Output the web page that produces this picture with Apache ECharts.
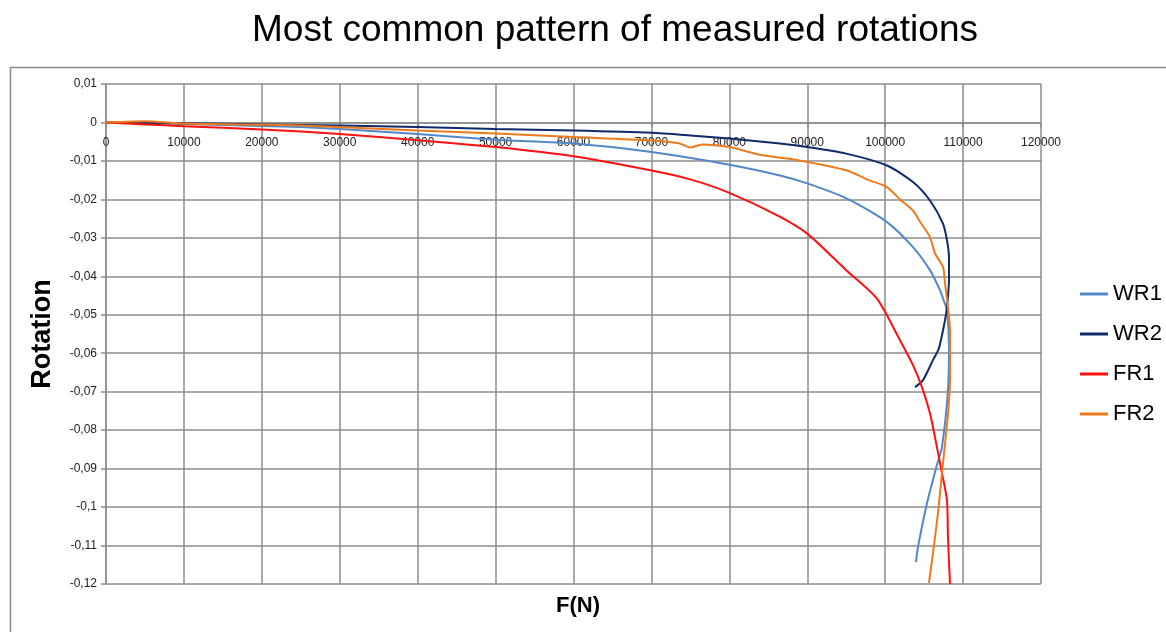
<!DOCTYPE html>
<html>
<head>
<meta charset="utf-8">
<title>Most common pattern of measured rotations</title>
<script src="https://cdn.jsdelivr.net/npm/echarts@6/dist/echarts.min.js"></script>
<style>
  html, body { margin: 0; padding: 0; background: #ffffff; }
  #chart { width: 1166px; height: 632px; }
</style>
</head>
<body>
<div id="chart"></div>
<script>
// Axis ticks
var forceTicks = [0, 10000, 20000, 30000, 40000, 50000, 60000, 70000, 80000, 90000, 100000, 110000, 120000];
var rotationTicks = [0.01, 0, -0.01, -0.02, -0.03, -0.04, -0.05, -0.06, -0.07, -0.08, -0.09, -0.1, -0.11, -0.12];

var seriesNames = ['WR1', 'WR2', 'FR1', 'FR2'];

// WR1: force (N) and rotation
var wr1Force = [0, 10000, 20000, 25000, 30000, 40000, 50000, 60000, 70000, 80000, 86500, 90100, 95100, 100230, 103570, 105750, 107030, 107500, 107930, 108190, 108060, 107290, 106650, 105370, 104210, 103960];
var wr1Rotation = [0, -0.0004, -0.0009, -0.0012, -0.0017, -0.003, -0.0045, -0.0055, -0.0077, -0.011, -0.0138, -0.0159, -0.0198, -0.0259, -0.0324, -0.0384, -0.0436, -0.0462, -0.0488, -0.0584, -0.0696, -0.0844, -0.0890, -0.0990, -0.1104, -0.1143];

// WR2
var wr2Force = [0, 10000, 20000, 30000, 40000, 50000, 60000, 70000, 75000, 80000, 86500, 90000, 95000, 100230, 103570, 105750, 107420, 107930, 108190, 108190, 107930, 107680, 106900, 106130, 104850, 103830];
var wr2Rotation = [0, -0.0002, -0.0005, -0.0008, -0.0012, -0.0017, -0.0021, -0.0027, -0.0034, -0.0042, -0.0055, -0.0064, -0.0081, -0.0112, -0.0155, -0.0203, -0.0263, -0.0306, -0.0350, -0.0410, -0.0480, -0.0514, -0.0587, -0.0618, -0.0670, -0.0688];

// FR1
var fr1Force = [0, 5000, 10000, 20000, 30000, 40000, 50000, 60000, 70000, 75000, 80000, 86400, 90000, 95000, 98900, 101900, 103570, 104720, 105750, 106390, 107290, 107930, 108060, 108320];
var fr1Rotation = [0, -0.0005, -0.001, -0.0018, -0.003, -0.0046, -0.0064, -0.0088, -0.0125, -0.0148, -0.0183, -0.0244, -0.0289, -0.0384, -0.0457, -0.0566, -0.0631, -0.0688, -0.0756, -0.0818, -0.0912, -0.0982, -0.1078, -0.1200];

// FR2
var fr2Force = [0, 5000, 10000, 20000, 25000, 40000, 50000, 60000, 70000, 73500, 75000, 76500, 80000, 83900, 89000, 95100, 97670, 100230, 101900, 103570, 104470, 105750, 106390, 107420, 107680, 108060, 108320, 108320, 108060, 107290, 106780, 106130, 105620];
var fr2Rotation = [0, 0.0003, -0.0003, -0.0006, -0.0008, -0.0021, -0.0029, -0.0038, -0.0047, -0.0054, -0.0065, -0.0057, -0.0064, -0.0084, -0.0099, -0.0125, -0.0148, -0.0168, -0.0200, -0.0229, -0.0258, -0.0298, -0.0340, -0.0376, -0.0418, -0.0481, -0.0540, -0.0670, -0.0758, -0.0912, -0.1016, -0.1120, -0.1197];

var seriesColors = ['#5288c9', '#0e2a6b', '#ff1010', '#ed7a1c'];

function pairs(xs, ys) {
  return xs.map(function (x, i) { return [x, ys[i]]; });
}

var seriesData = [
  pairs(wr1Force, wr1Rotation),
  pairs(wr2Force, wr2Rotation),
  pairs(fr1Force, fr1Rotation),
  pairs(fr2Force, fr2Rotation)
];

function commaDecimal(v) {
  var r = Math.round(v * 100) / 100;
  return String(r).replace('.', ',');
}

function plainNumber(v) {
  return String(Math.round(v));
}

var gridColor = '#8c8c8c';
var gridTop = 84, gridBottom = 48, chartHeight = 632;
var yMin = rotationTicks[rotationTicks.length - 1], yMax = rotationTicks[0];
// Distance from the bottom of the plot up to the zero line, so the force axis sits at rotation 0
var plotHeight = chartHeight - gridTop - gridBottom;
var zeroOffset = plotHeight * (0 - yMin) / (yMax - yMin);

var chart = echarts.init(document.getElementById('chart'), null, { renderer: 'canvas' });

chart.setOption({
  backgroundColor: '#ffffff',
  animation: false,
  title: {
    text: 'Most common pattern of measured rotations',
    left: 610,
    textAlign: 'center',
    top: 7,
    textStyle: {
      fontFamily: 'Liberation Sans',
      fontSize: 37,
      fontWeight: 'normal',
      color: '#000000'
    }
  },
  graphic: [{
    type: 'rect',
    shape: { x: 10.5, y: 67.5, width: 1170, height: 600 },
    style: { fill: 'none', stroke: '#8c8c8c', lineWidth: 1.5 },
    silent: true
  }, {
    type: 'text',
    left: 556,
    top: 595,
    style: {
      text: 'F(N)',
      font: 'bold 22px "Liberation Sans"',
      fill: '#000000'
    },
    silent: true
  }],
  legend: {
    orient: 'vertical',
    left: 1075,
    top: 277,
    itemWidth: 28,
    itemHeight: 3,
    itemGap: 16,
    icon: 'rect',
    data: seriesNames,
    textStyle: {
      fontFamily: 'Liberation Sans',
      fontSize: 22,
      lineHeight: 24,
      color: '#000000'
    }
  },
  grid: {
    left: 106,
    right: 125,
    top: gridTop,
    bottom: gridBottom,
    containLabel: false
  },
  xAxis: {
    type: 'value',
    position: 'bottom',
    offset: -zeroOffset,
    min: forceTicks[0],
    max: forceTicks[forceTicks.length - 1],
    interval: forceTicks[1] - forceTicks[0],
    axisLine: { onZero: false, lineStyle: { color: gridColor, width: 1.5 } },
    axisTick: { show: true, length: 5, lineStyle: { color: gridColor, width: 1.5 } },
    axisLabel: {
      fontFamily: 'Liberation Sans',
      fontSize: 12,
      color: '#222222',
      margin: 14,
      formatter: plainNumber
    },
    splitLine: { show: true, lineStyle: { color: gridColor, width: 1.5 } }
  },
  yAxis: {
    type: 'value',
    min: yMin,
    max: yMax,
    interval: 0.01,
    name: 'Rotation',
    nameLocation: 'middle',
    nameGap: 50,
    nameRotate: 90,
    nameTextStyle: {
      fontFamily: 'Liberation Sans',
      fontSize: 27,
      fontWeight: 'bold',
      color: '#000000'
    },
    axisLine: { show: true, onZero: false, lineStyle: { color: gridColor, width: 1.5 } },
    axisTick: { show: true, length: 5, lineStyle: { color: gridColor, width: 1.5 } },
    axisLabel: {
      fontFamily: 'Liberation Sans',
      fontSize: 12,
      color: '#222222',
      margin: 9,
      formatter: commaDecimal
    },
    splitLine: { show: true, lineStyle: { color: gridColor, width: 1.5 } }
  },
  series: seriesNames.map(function (name, i) {
    return {
      name: name,
      type: 'line',
      data: seriesData[i],
      showSymbol: false,
      smooth: 0.25,
      clip: true,
      color: seriesColors[i],
      lineStyle: { color: seriesColors[i], width: 2 }
    };
  })
});
</script>
</body>
</html>
